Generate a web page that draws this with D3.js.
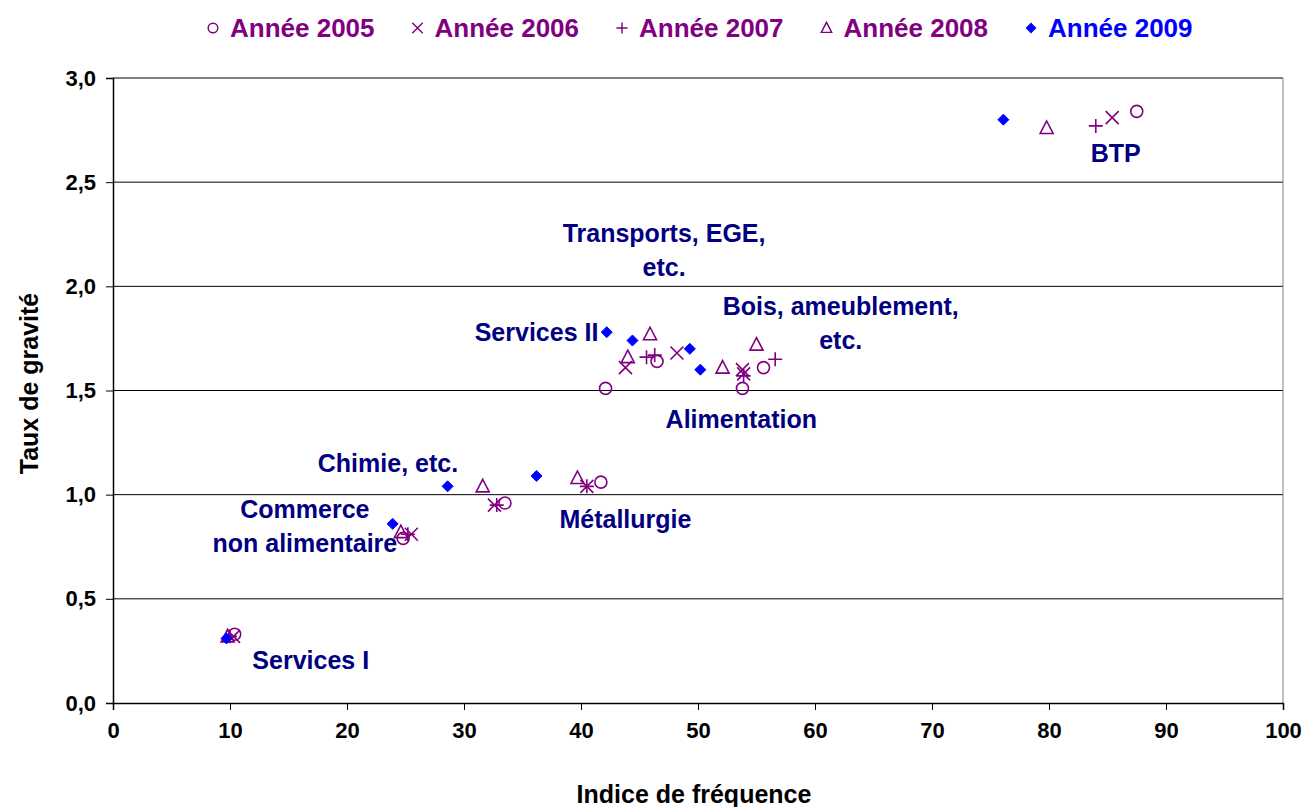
<!DOCTYPE html>
<html>
<head>
<meta charset="utf-8">
<script src="https://cdn.jsdelivr.net/npm/d3@7"></script>
<style>
  body { margin: 0; background: #fff; }
  svg { display: block; font-family: "Liberation Sans", Arial, sans-serif; font-weight: bold; }
  .tick text { font-size: 22px; font-weight: bold; fill: #000; }
</style>
</head>
<body>
<div id="chart"></div>
<script>
var years = ['Année 2005', 'Année 2006', 'Année 2007', 'Année 2008', 'Année 2009'];
var sectors = ['Services I', 'Commerce non alimentaire', 'Chimie, etc.', 'Métallurgie', 'Services II',
               'Transports, EGE, etc.', 'Bois, ameublement, etc.', 'Alimentation', 'BTP'];

// indice de fréquence (x) / taux de gravité (y), one value per sector
var freq2005 = [10.4, 24.8, 33.5, 41.7, 42.1, 46.5, 55.6, 53.8, 87.5],
    grav2005 = [0.33, 0.79, 0.96, 1.06, 1.51, 1.64, 1.61, 1.51, 2.84];
var freq2006 = [10.3, 25.5, 32.6, 40.5, 43.8, 48.2, 53.8, 53.9, 85.4],
    grav2006 = [0.32, 0.81, 0.95, 1.04, 1.61, 1.68, 1.60, 1.58, 2.81];
var freq2007 = [10.0, 25.2, 32.8, 40.5, 45.6, 46.3, 56.6, 53.9, 84.0],
    grav2007 = [0.32, 0.81, 0.95, 1.04, 1.66, 1.67, 1.65, 1.57, 2.77];
var freq2008 = [9.8, 24.6, 31.6, 39.7, 44.0, 45.9, 55.0, 52.1, 79.8],
    grav2008 = [0.32, 0.82, 1.04, 1.08, 1.66, 1.77, 1.72, 1.61, 2.76];
var freq2009 = [9.7, 23.9, 28.6, 36.2, 42.2, 44.4, 49.3, 50.2, 76.1],
    grav2009 = [0.31, 0.86, 1.04, 1.09, 1.78, 1.74, 1.70, 1.60, 2.80];

var xTicks = [0, 10, 20, 30, 40, 50, 60, 70, 80, 90, 100],
    yTicks = [0, 0.5, 1, 1.5, 2, 2.5, 3];

// sector labels (anchor in data units, lines stacked)
var labelLines = [['Services I'], ['Commerce', 'non alimentaire'], ['Chimie, etc.'], ['Métallurgie'],
                  ['Services II'], ['Transports, EGE,', 'etc.'], ['Bois, ameublement,', 'etc.'],
                  ['Alimentation'], ['BTP']];
var labelX = [16.9, 16.4, 23.5, 43.8, 36.2, 47.1, 62.2, 53.7, 85.7],
    labelY = [0.163, 0.888, 1.109, 0.840, 1.738, 2.213, 1.862, 1.320, 2.597];

var purple = '#800080', blue = '#0000ff', navy = '#000080';

var width = 1302, height = 807,
    margin = {top: 78, right: 19, bottom: 104, left: 113},
    plotW = width - margin.left - margin.right,
    plotH = height - margin.top - margin.bottom;

var x = d3.scaleLinear().domain([0, 100]).range([0, plotW]),
    y = d3.scaleLinear().domain([0, 3]).range([plotH, 0]);

var fmt = function(d) { return d3.format('.1f')(d).replace('.', ','); };

// marker outlines by year index
function markerPath(k) {
  switch (k) {
    case 0: return 'M6,0A6,6 0 1,1 -6,0A6,6 0 1,1 6,0Z';
    case 1: return 'M-6.5,-6.5L6.5,6.5M-6.5,6.5L6.5,-6.5';
    case 2: return 'M-7,0L7,0M0,-7L0,7';
    case 3: return 'M0,-7L6.5,5.5L-6.5,5.5Z';
    default: return 'M0,-5.5L5.5,0L0,5.5L-5.5,0Z';
  }
}

var series = [[freq2005, grav2005], [freq2006, grav2006], [freq2007, grav2007],
              [freq2008, grav2008], [freq2009, grav2009]].map(function(s, k) {
  return {
    name: years[k],
    color: k === 4 ? blue : purple,
    points: s[0].map(function(v, i) { return {x: v, y: s[1][i], sector: sectors[i]}; })
  };
});

var svg = d3.select('#chart').append('svg')
    .attr('width', width)
    .attr('height', height);

var g = svg.append('g').attr('transform', 'translate(' + margin.left + ',' + margin.top + ')');

// gridlines
g.append('g').selectAll('line').data(yTicks.filter(function(d) { return d > 0; }))
    .enter().append('line')
    .attr('x1', 0).attr('x2', plotW)
    .attr('y1', function(d) { return y(d); })
    .attr('y2', function(d) { return y(d); })
    .style('stroke', '#000').style('stroke-width', '1px');

g.append('line')
    .attr('x1', plotW).attr('x2', plotW).attr('y1', 0).attr('y2', plotH)
    .style('stroke', '#808080').style('stroke-width', '1px');

var xAxis = g.append('g')
    .attr('transform', 'translate(0,' + plotH + ')')
    .call(d3.axisBottom(x).tickValues(xTicks).tickSize(7).tickPadding(12).tickFormat(d3.format('d')));
var yAxis = g.append('g')
    .call(d3.axisLeft(y).tickValues(yTicks).tickSize(7).tickPadding(10).tickFormat(fmt));
[xAxis, yAxis].forEach(function(a) {
  a.select('.domain').style('stroke', '#000').style('stroke-width', '1.5px');
  a.selectAll('.tick line').style('stroke', '#000');
});

// axis titles
svg.append('text')
    .attr('x', margin.left + plotW / 2 - 4).attr('y', 803)
    .attr('text-anchor', 'middle')
    .style('font-size', '25px')
    .text('Indice de fréquence');
svg.append('text')
    .attr('transform', 'translate(38,' + (margin.top + plotH / 2 - 7) + ') rotate(-90)')
    .attr('text-anchor', 'middle')
    .style('font-size', '25px')
    .text('Taux de gravité');

// sector labels
var labels = g.append('g').selectAll('text').data(labelLines)
    .enter().append('text')
    .attr('text-anchor', 'middle')
    .attr('x', function(d, i) { return x(labelX[i]); })
    .attr('y', function(d, i) { return y(labelY[i]); })
    .style('font-size', '25px')
    .style('fill', navy);
labels.selectAll('tspan').data(function(d, i) { return d.map(function(l) { return {t: l, i: i}; }); })
    .enter().append('tspan')
    .attr('x', function(d) { return x(labelX[d.i]); })
    .attr('dy', function(d, j) { return j === 0 ? 0 : 34; })
    .text(function(d) { return d.t; });

// points
series.forEach(function(s, k) {
  g.append('g').selectAll('.pt').data(s.points)
      .enter().append('path')
      .attr('class', 'pt')
      .attr('transform', function(d) { return 'translate(' + x(d.x) + ',' + y(d.y) + ')'; })
      .attr('d', markerPath(k))
      .style('fill', k === 4 ? blue : 'none')
      .style('stroke', s.color)
      .style('stroke-width', k === 4 ? '1px' : '1.6px');
});

// legend
var legend = svg.append('g').selectAll('.legend').data(series)
    .enter().append('g')
    .attr('class', 'legend')
    .attr('transform', function(d, i) { return 'translate(' + (205 + i * 204.5) + ',28)'; });
legend.append('path')
    .attr('transform', 'translate(8,0) scale(0.8)')
    .attr('d', function(d, i) { return markerPath(i); })
    .style('fill', function(d, i) { return i === 4 ? blue : 'none'; })
    .style('stroke', function(d) { return d.color; })
    .style('stroke-width', '1.8px');
legend.append('text')
    .attr('x', 25).attr('y', 9)
    .style('font-size', '26px')
    .style('fill', function(d) { return d.color; })
    .text(function(d) { return d.name; });
</script>
</body>
</html>
